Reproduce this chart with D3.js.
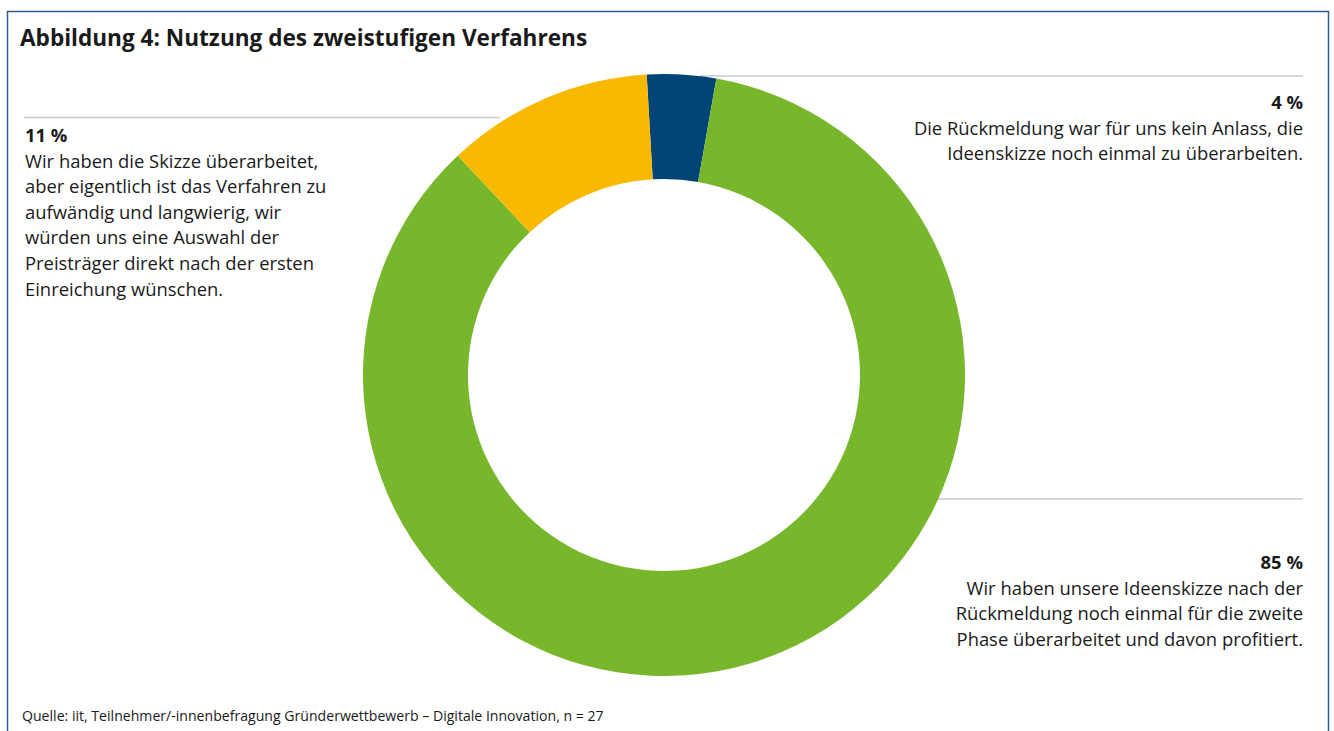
<!DOCTYPE html>
<html>
<head>
<meta charset="utf-8">
<script src="https://cdn.jsdelivr.net/npm/d3@7"></script>
<style>
  body { margin: 0; background: #fff; }
  svg text { font-family: "Open Sans", sans-serif; fill: #1a1a1a; }
</style>
</head>
<body>
<script>
// chart values
const categories = ["rueckmeldung_kein_anlass", "ueberarbeitet_profitiert", "ueberarbeitet_aufwaendig"];
const shares = [3.7, 85.2, 11.1];          // share of respondents, n = 27
const shareLabels = ["4 %", "85 %", "11 %"];
const colors = ["#004575", "#78b72b", "#f9b900"];
const descriptions = [
  ["Die Rückmeldung war für uns kein Anlass, die", "Ideenskizze noch einmal zu überarbeiten."],
  ["Wir haben unsere Ideenskizze nach der", "Rückmeldung noch einmal für die zweite", "Phase überarbeitet und davon profitiert."],
  ["Wir haben die Skizze überarbeitet,", "aber eigentlich ist das Verfahren zu", "aufwändig und langwierig, wir", "würden uns eine Auswahl der", "Preisträger direkt nach der ersten", "Einreichung wünschen."]
];
const title = "Abbildung 4: Nutzung des zweistufigen Verfahrens";
const source = "Quelle: iit, Teilnehmer/-innenbefragung Gründerwettbewerb – Digitale Innovation, n = 27";

const w = 1334, h = 731;
const cx = 664, cy = 375, outerR = 301, innerR = 196;

let svg = d3.select("body").append("svg")
  .attr("width", w)
  .attr("height", h);

// frame
svg.append("path")
  .attr("d", `M7.5,${h} V11.5 H1328.5 V${h}`)
  .attr("fill", "none")
  .attr("stroke", "#2f5d8a")
  .attr("stroke-width", 1.5);

svg.append("text")
  .attr("x", 20)
  .attr("y", 46)
  .attr("font-size", 22.6)
  .attr("font-weight", 700)
  .text(title);

// label layout: leader line + text block per slice
const labelPos = [
  {line: [700, 76, 1303, 76], x: 1303, y: 109, anchor: "end"},
  {line: [938, 499, 1303, 499], x: 1303, y: 569, anchor: "end"},
  {line: [24, 117.5, 500, 117.5], x: 25, y: 142, anchor: "start"}
];

let lines = svg.append("g");
labelPos.forEach(p => {
  lines.append("line")
    .attr("x1", p.line[0]).attr("y1", p.line[1])
    .attr("x2", p.line[2]).attr("y2", p.line[3])
    .attr("stroke", "#c3cbd3")
    .attr("stroke-width", 1.5);
});

// donut
let pie = d3.pie()
  .sort(null)
  .startAngle(-3.3 * Math.PI / 180)
  .endAngle(2 * Math.PI - 3.3 * Math.PI / 180);

let arc = d3.arc()
  .innerRadius(innerR)
  .outerRadius(outerR);

svg.append("g")
  .attr("transform", `translate(${cx},${cy})`)
  .selectAll("path")
  .data(pie(shares))
  .enter()
  .append("path")
  .attr("d", arc)
  .attr("fill", (d, i) => colors[i]);

// labels
labelPos.forEach((p, i) => {
  let t = svg.append("text")
    .attr("x", p.x)
    .attr("y", p.y)
    .attr("text-anchor", p.anchor)
    .attr("font-size", 18.4);
  t.append("tspan")
    .attr("x", p.x)
    .attr("font-weight", 700)
    .text(shareLabels[i]);
  descriptions[i].forEach(s => {
    t.append("tspan")
      .attr("x", p.x)
      .attr("dy", 25.6)
      .text(s);
  });
});

svg.append("text")
  .attr("x", 22)
  .attr("y", 721)
  .attr("font-size", 14.1)
  .text(source);
</script>
</body>
</html>
